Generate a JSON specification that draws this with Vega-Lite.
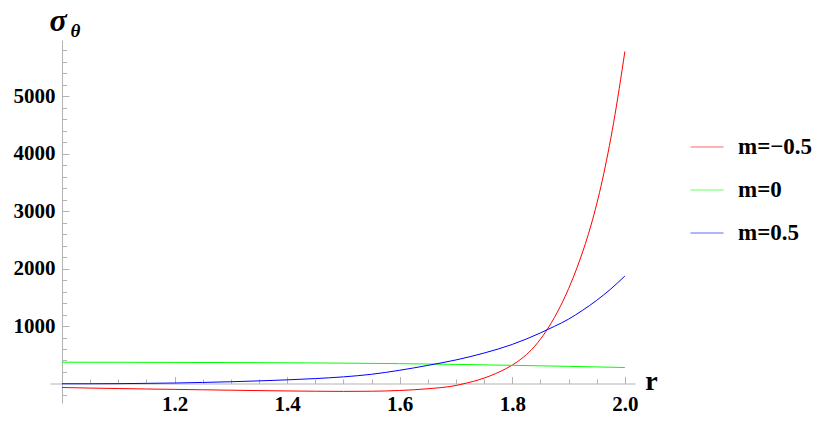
{
  "$schema": "https://vega.github.io/schema/vega-lite/v6.json",
  "width": 585,
  "height": 363,
  "autosize": {"type": "none"},
  "padding": {"left": 50, "top": 40, "right": 197, "bottom": 21},
  "config": {"view": {"stroke": null}, "font": "Liberation Serif"},
  "data": {"values": [
    {"r": 1.00, "s": -70, "m": "m=−0.5"},
    {"r": 1.05, "s": -80, "m": "m=−0.5"},
    {"r": 1.10, "s": -88, "m": "m=−0.5"},
    {"r": 1.15, "s": -96, "m": "m=−0.5"},
    {"r": 1.20, "s": -103, "m": "m=−0.5"},
    {"r": 1.25, "s": -110, "m": "m=−0.5"},
    {"r": 1.30, "s": -117, "m": "m=−0.5"},
    {"r": 1.35, "s": -124, "m": "m=−0.5"},
    {"r": 1.40, "s": -130, "m": "m=−0.5"},
    {"r": 1.45, "s": -135, "m": "m=−0.5"},
    {"r": 1.50, "s": -138, "m": "m=−0.5"},
    {"r": 1.55, "s": -135, "m": "m=−0.5"},
    {"r": 1.60, "s": -122, "m": "m=−0.5"},
    {"r": 1.65, "s": -92, "m": "m=−0.5"},
    {"r": 1.70, "s": -35, "m": "m=−0.5"},
    {"r": 1.72, "s": 10, "m": "m=−0.5"},
    {"r": 1.74, "s": 62, "m": "m=−0.5"},
    {"r": 1.76, "s": 130, "m": "m=−0.5"},
    {"r": 1.78, "s": 215, "m": "m=−0.5"},
    {"r": 1.80, "s": 320, "m": "m=−0.5"},
    {"r": 1.82, "s": 460, "m": "m=−0.5"},
    {"r": 1.84, "s": 650, "m": "m=−0.5"},
    {"r": 1.86, "s": 910, "m": "m=−0.5"},
    {"r": 1.88, "s": 1240, "m": "m=−0.5"},
    {"r": 1.90, "s": 1650, "m": "m=−0.5"},
    {"r": 1.92, "s": 2150, "m": "m=−0.5"},
    {"r": 1.94, "s": 2760, "m": "m=−0.5"},
    {"r": 1.96, "s": 3540, "m": "m=−0.5"},
    {"r": 1.98, "s": 4540, "m": "m=−0.5"},
    {"r": 2.00, "s": 5779, "m": "m=−0.5"},
    {"r": 1.00, "s": 370, "m": "m=0"},
    {"r": 1.10, "s": 369, "m": "m=0"},
    {"r": 1.20, "s": 367, "m": "m=0"},
    {"r": 1.30, "s": 364, "m": "m=0"},
    {"r": 1.40, "s": 360, "m": "m=0"},
    {"r": 1.50, "s": 354, "m": "m=0"},
    {"r": 1.60, "s": 345, "m": "m=0"},
    {"r": 1.70, "s": 332, "m": "m=0"},
    {"r": 1.80, "s": 316, "m": "m=0"},
    {"r": 1.90, "s": 298, "m": "m=0"},
    {"r": 2.00, "s": 278, "m": "m=0"},
    {"r": 1.00, "s": -5, "m": "m=0.5"},
    {"r": 1.05, "s": -5, "m": "m=0.5"},
    {"r": 1.10, "s": -3, "m": "m=0.5"},
    {"r": 1.15, "s": 2, "m": "m=0.5"},
    {"r": 1.20, "s": 8, "m": "m=0.5"},
    {"r": 1.25, "s": 18, "m": "m=0.5"},
    {"r": 1.30, "s": 30, "m": "m=0.5"},
    {"r": 1.35, "s": 45, "m": "m=0.5"},
    {"r": 1.40, "s": 63, "m": "m=0.5"},
    {"r": 1.45, "s": 85, "m": "m=0.5"},
    {"r": 1.50, "s": 115, "m": "m=0.5"},
    {"r": 1.55, "s": 160, "m": "m=0.5"},
    {"r": 1.60, "s": 230, "m": "m=0.5"},
    {"r": 1.65, "s": 315, "m": "m=0.5"},
    {"r": 1.70, "s": 410, "m": "m=0.5"},
    {"r": 1.75, "s": 530, "m": "m=0.5"},
    {"r": 1.80, "s": 680, "m": "m=0.5"},
    {"r": 1.85, "s": 880, "m": "m=0.5"},
    {"r": 1.875, "s": 995, "m": "m=0.5"},
    {"r": 1.90, "s": 1120, "m": "m=0.5"},
    {"r": 1.925, "s": 1275, "m": "m=0.5"},
    {"r": 1.95, "s": 1448, "m": "m=0.5"},
    {"r": 1.975, "s": 1645, "m": "m=0.5"},
    {"r": 2.00, "s": 1871, "m": "m=0.5"}
  ]},
  "layer": [
    {
      "mark": {"type": "line", "strokeWidth": 1, "interpolate": "monotone", "clip": true},
      "encoding": {
        "x": {
          "field": "r", "type": "quantitative",
          "scale": {"domain": [0.9787, 2.018], "nice": false, "zero": false},
          "axis": {
            "orient": "bottom", "offset": -19.5,
            "values": [1.2, 1.4, 1.6, 1.8, 2.0], "format": ".1f",
            "grid": false, "domainColor": "#b3b3b3", "domainWidth": 1,
            "tickColor": "#b3b3b3", "tickSize": -7, "tickWidth": 1,
            "labelFont": "Liberation Serif", "labelFontWeight": "bold", "labelFontSize": 21, "labelColor": "#000000",
            "labelPadding": 17, "labelFlush": false, "labelOverlap": false,
            "title": "r", "titleFont": "Liberation Serif", "titleFontWeight": "bold", "titleFontSize": 28, "titleColor": "#000000",
            "titleX": 601, "titleY": 6, "titleAlign": "center", "titleBaseline": "alphabetic", "titleAngle": 0
          }
        },
        "y": {
          "field": "s", "type": "quantitative",
          "scale": {"domain": [-340, 5980], "nice": false, "zero": false},
          "axis": {
            "orient": "left", "offset": -12,
            "values": [1000, 2000, 3000, 4000, 5000], "format": "d",
            "grid": false, "domainColor": "#b3b3b3", "domainWidth": 1,
            "tickColor": "#b3b3b3", "tickSize": -7, "tickWidth": 1,
            "labelFont": "Liberation Serif", "labelFontWeight": "bold", "labelFontSize": 21, "labelColor": "#000000",
            "labelPadding": 14, "labelOverlap": false,
            "title": "σ", "titleFont": "Liberation Serif", "titleFontStyle": "italic", "titleFontWeight": "bold", "titleFontSize": 32, "titleColor": "#000000",
            "titleX": -13, "titleY": -10, "titleAlign": "left", "titleBaseline": "alphabetic", "titleAngle": 0
          }
        },
        "color": {
          "field": "m", "type": "nominal",
          "scale": {"domain": ["m=−0.5", "m=0", "m=0.5"], "range": ["#ff0000", "#00ff00", "#0000ff"]},
          "legend": {
            "orient": "none", "legendX": 640, "legendY": 90, "title": null, "padding": 0,
            "symbolType": "stroke", "symbolSize": 1089, "symbolStrokeWidth": 1, "symbolOpacity": 0.6,
            "labelFont": "Liberation Serif", "labelFontWeight": "bold", "labelFontSize": 23, "labelColor": "#000000",
            "labelOffset": 14, "rowPadding": 14
          }
        }
      }
    },
    {
      "mark": {"type": "line", "opacity": 0},
      "encoding": {
        "x": {
          "field": "r", "type": "quantitative",
          "axis": {
            "orient": "bottom", "offset": -19.5,
            "values": [1.05, 1.1, 1.15, 1.25, 1.3, 1.35, 1.45, 1.5, 1.55, 1.65, 1.7, 1.75, 1.85, 1.9, 1.95],
            "grid": false, "domain": false, "labels": false,
            "tickColor": "#b3b3b3", "tickSize": -4.5, "tickWidth": 1, "title": null
          }
        },
        "y": {
          "field": "s", "type": "quantitative",
          "axis": {
            "orient": "left", "offset": -12,
            "values": [-200, 200, 400, 600, 800, 1200, 1400, 1600, 1800, 2200, 2400, 2600, 2800, 3200, 3400, 3600, 3800, 4200, 4400, 4600, 4800, 5200, 5400, 5600, 5800],
            "grid": false, "domain": false, "labels": false,
            "tickColor": "#b3b3b3", "tickSize": -4.5, "tickWidth": 1,
            "title": "θ", "titleFont": "Liberation Serif", "titleFontStyle": "italic", "titleFontWeight": "bold", "titleFontSize": 19, "titleColor": "#000000",
            "titleX": 8, "titleY": -4, "titleAlign": "left", "titleBaseline": "alphabetic", "titleAngle": 0
          }
        },
        "detail": {"field": "m", "type": "nominal"}
      }
    }
  ],
  "resolve": {"axis": {"x": "independent", "y": "independent"}}
}
